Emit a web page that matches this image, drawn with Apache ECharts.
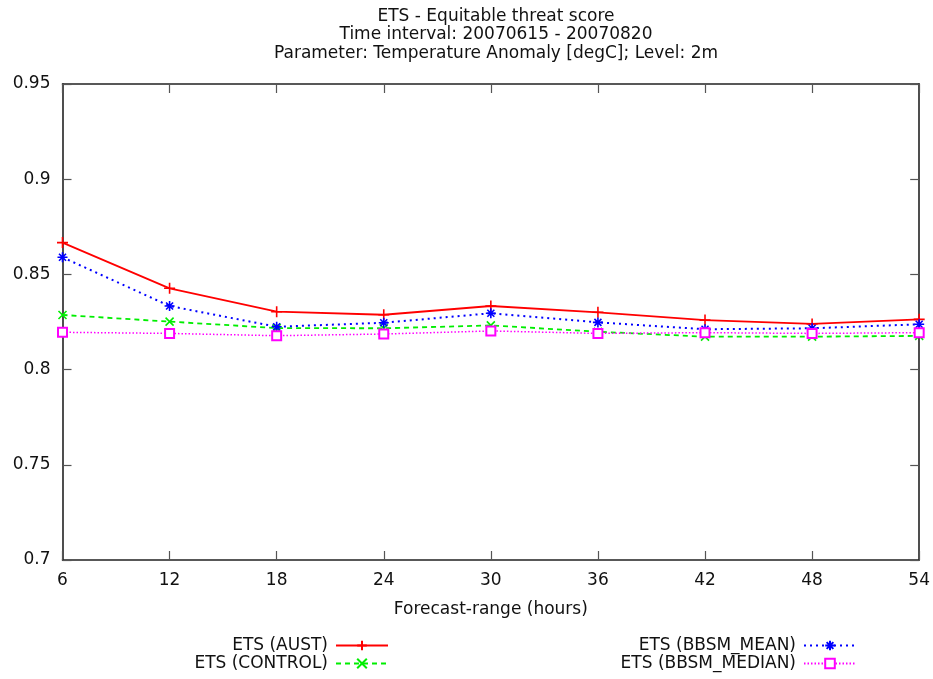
<!DOCTYPE html>
<html><head><meta charset="utf-8">
<script src="https://cdn.jsdelivr.net/npm/echarts@6/dist/echarts.min.js"></script>
<style>html,body{margin:0;padding:0;background:#fff}#c{width:933px;height:679px}</style>
</head><body><div id="c"></div>
<script>
const hours = [6, 12, 18, 24, 30, 36, 42, 48, 54];
const aust = [0.8667, 0.8427, 0.8304, 0.8288, 0.8334, 0.8301, 0.8260, 0.8240, 0.8264];
const control = [0.8287, 0.8252, 0.8218, 0.8217, 0.8232, 0.8199, 0.8173, 0.8173, 0.8177];
const bbsmMean = [0.8590, 0.8334, 0.8225, 0.8246, 0.8296, 0.8248, 0.8212, 0.8217, 0.8238];
const bbsmMedian = [0.8196, 0.8190, 0.8178, 0.8187, 0.8203, 0.8190, 0.8194, 0.8190, 0.8194];
const titleLines = ['ETS - Equitable threat score', 'Time interval: 20070615 - 20070820', 'Parameter: Temperature Anomaly [degC]; Level: 2m'];
const seriesNames = ['ETS (AUST)', 'ETS (CONTROL)', 'ETS (BBSM_MEAN)', 'ETS (BBSM_MEDIAN)'];

const FONT = 'DejaVu Sans';
const FS = 17;
const pair = arr => hours.map((h, i) => [h, arr[i]]);
const PLUS = 'path://M5,0L5,10M0,5L10,5';
const CROSS = 'path://M0,0L10,10M10,0L0,10';
const STAR = 'path://M5,0L5,10M0,5L10,5M1.5,1.5L8.5,8.5M8.5,1.5L1.5,8.5';

const chart = echarts.init(document.getElementById('c'), null, {renderer: 'canvas'});
const axisLine = {show: true, lineStyle: {color: '#222', width: 1.6}};
const tickIn = {show: true, inside: true, length: 9, lineStyle: {color: '#555', width: 1.2}};
const mk = (name, data, color, type, symbol, size, width) => ({
  name, type: 'line', data: pair(data), symbol, symbolSize: size,
  lineStyle: {color, width, type},
  itemStyle: {color, borderColor: color, borderWidth: 1.6},
  z: 3, animation: false
});
const legendItem = (name, right, top) => ({
  data: [name], orient: 'vertical', align: 'right', right, top,
  itemWidth: 52, itemHeight: 12, itemGap: 4, padding: 0,
  textStyle: {fontFamily: FONT, fontSize: FS, color: '#111', padding: [0, 3, 0, 0]}
});
chart.setOption({
  animation: false,
  title: {
    text: titleLines.join('\n'), left: 491, top: 2, textAlign: 'center',
    textStyle: {fontFamily: FONT, fontSize: FS, fontWeight: 'normal', color: '#111', lineHeight: 18.5}
  },
  legend: [
    legendItem(seriesNames[0], 544, 637),
    legendItem(seriesNames[1], 544, 655),
    legendItem(seriesNames[2], 76, 637),
    legendItem(seriesNames[3], 76, 655)
  ],
  grid: {left: 62.5, right: 10, top: 84, bottom: 119, containLabel: false},
  xAxis: [
    {type: 'value', min: 6, max: 54, interval: 6, position: 'bottom',
     name: 'Forecast-range (hours)', nameLocation: 'middle', nameGap: 41,
     nameTextStyle: {fontFamily: FONT, fontSize: FS, color: '#111'},
     axisLine, axisTick: tickIn, splitLine: {show: false},
     axisLabel: {fontFamily: FONT, fontSize: FS, color: '#111', margin: 12}},
    {type: 'value', min: 6, max: 54, interval: 6, position: 'top',
     axisLine, axisTick: tickIn, splitLine: {show: false}, axisLabel: {show: false}}
  ],
  yAxis: [
    {type: 'value', min: 0.7, max: 0.95, interval: 0.05, position: 'left',
     axisLine, axisTick: tickIn, splitLine: {show: false},
     axisLabel: {fontFamily: FONT, fontSize: FS, color: '#111', margin: 12}},
    {type: 'value', min: 0.7, max: 0.95, interval: 0.05, position: 'right',
     axisLine, axisTick: tickIn, splitLine: {show: false}, axisLabel: {show: false}}
  ],
  series: [
    mk(seriesNames[0], aust, '#ff0000', 'solid', PLUS, 11, 1.8),
    mk(seriesNames[1], control, '#00ee00', [5, 4], CROSS, 8, 1.8),
    mk(seriesNames[2], bbsmMean, '#0000ff', [2, 4], STAR, 10, 2),
    Object.assign(mk(seriesNames[3], bbsmMedian, '#ff00ff', [1.5, 2], 'emptyRect', 9, 1.5), {itemStyle: {color: '#ff00ff', borderColor: '#ff00ff', borderWidth: 1.6}})
  ]
});
</script></body></html>
